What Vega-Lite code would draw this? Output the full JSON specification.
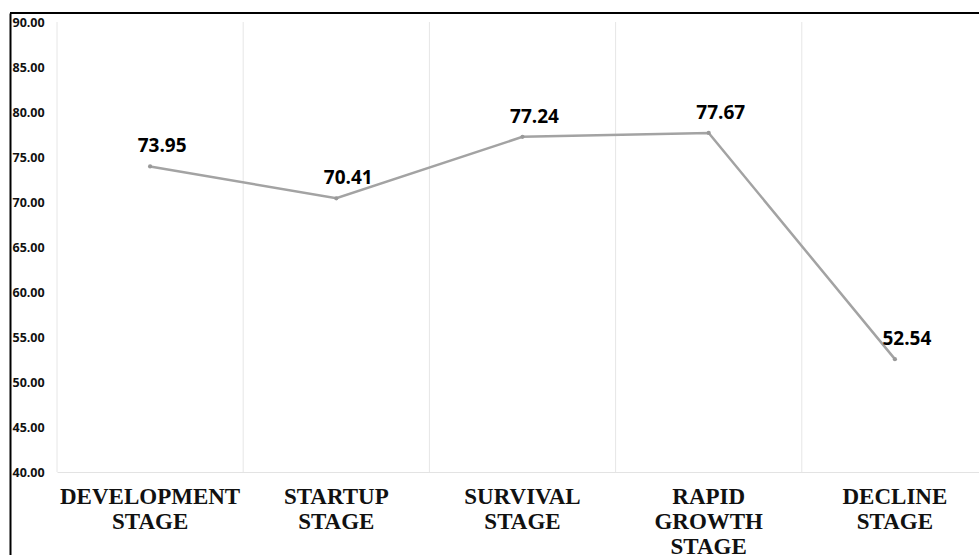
{
  "$schema": "https://vega.github.io/schema/vega-lite/v6.json",
  "width": 969,
  "height": 542,
  "autosize": {"type": "none"},
  "padding": {"left": 10, "top": 13, "right": 0, "bottom": 0},
  "background": "white",
  "config": {"view": {"stroke": null}},
  "data": {
    "values": [
      {"stage": "DEVELOPMENT STAGE", "value": 73.95},
      {"stage": "STARTUP STAGE", "value": 70.41},
      {"stage": "SURVIVAL STAGE", "value": 77.24},
      {"stage": "RAPID GROWTH STAGE", "value": 77.67},
      {"stage": "DECLINE STAGE", "value": 52.54}
    ]
  },
  "layer": [
    {
      "mark": {"type": "rule", "color": "#e6e6e6", "strokeWidth": 1},
      "encoding": {
        "x": {"field": "stage", "type": "nominal", "sort": null, "bandPosition": 0,
              "scale": {"range": [47, 978], "paddingInner": 0, "paddingOuter": 0}},
        "y": {"datum": 90, "type": "quantitative"},
        "y2": {"datum": 40}
      }
    },
    {
      "mark": {"type": "rule", "color": "black", "strokeWidth": 2},
      "encoding": {
        "y": {"datum": 91, "type": "quantitative"}
      }
    },
    {
      "mark": {"type": "line", "color": "#a3a3a3", "strokeWidth": 2.5},
      "encoding": {
        "x": {"field": "stage", "type": "nominal", "sort": null,
              "scale": {"range": [47, 978], "paddingInner": 0, "paddingOuter": 0},
              "axis": {"title": null, "orient": "bottom", "offset": -83, "domain": true, "domainColor": "#e3e3e3", "domainWidth": 1,
                       "ticks": false, "tickSize": 0, "grid": false, "labelAngle": 0, "labelAlign": "center",
                       "labelExpr": "split(datum.label, ' ')", "labelFont": "Liberation Serif", "labelFontWeight": "bold",
                       "labelFontSize": 23, "labelColor": "#111111", "labelBaseline": "top", "labelPadding": 13,
                       "labelLineHeight": 25, "labelLimit": 0}},
        "y": {"field": "value", "type": "quantitative",
              "scale": {"domain": [30.7778, 91], "nice": false, "zero": false},
              "axis": {"title": null, "values": [40, 45, 50, 55, 60, 65, 70, 75, 80, 85, 90], "format": ".2f",
                       "grid": false, "ticks": false, "tickSize": 0, "domain": true, "domainColor": "black", "domainWidth": 2,
                       "labelAlign": "left", "labelPadding": -2, "labelFont": "Open Sans", "labelFontWeight": "bold",
                       "labelFontSize": 12.5, "labelColor": "#111111", "labelBaseline": "middle", "labelFlush": false}}
      }
    },
    {
      "mark": {"type": "point", "filled": true, "color": "#999999", "size": 18, "opacity": 1},
      "encoding": {
        "x": {"field": "stage", "type": "nominal", "sort": null},
        "y": {"field": "value", "type": "quantitative"}
      }
    },
    {
      "mark": {"type": "text", "font": "Open Sans", "fontWeight": "bold", "fontSize": 19, "color": "#000000", "dx": 12, "dy": -20, "baseline": "middle"},
      "encoding": {
        "x": {"field": "stage", "type": "nominal", "sort": null},
        "y": {"field": "value", "type": "quantitative"},
        "text": {"field": "value", "type": "quantitative", "format": ".2f"}
      }
    }
  ]
}
